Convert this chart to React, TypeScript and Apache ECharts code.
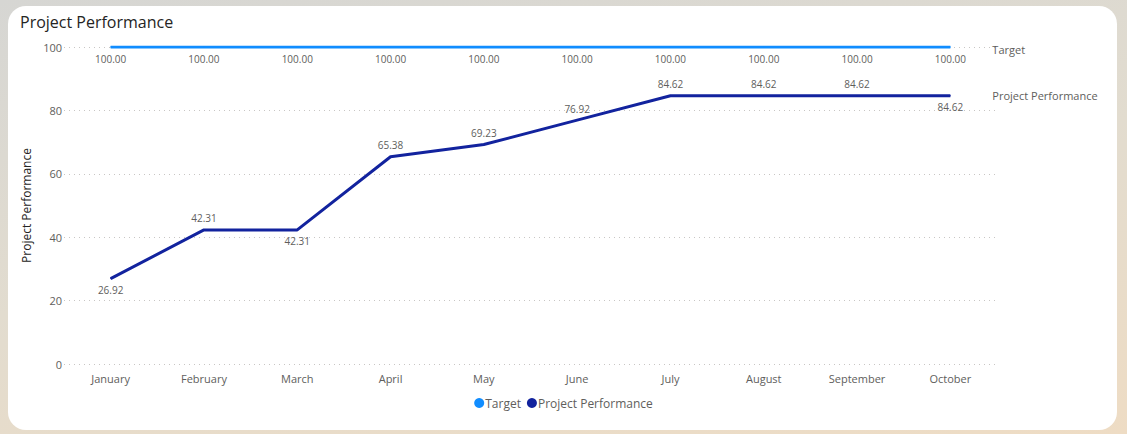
import React, { useEffect, useRef } from "react";
import * as echarts from "echarts";

const months = ["January", "February", "March", "April", "May", "June", "July", "August", "September", "October"];
const targetValues = [100, 100, 100, 100, 100, 100, 100, 100, 100, 100];
const performanceValues = [26.92, 42.31, 42.31, 65.38, 69.23, 76.92, 84.62, 84.62, 84.62, 84.62];
const performanceLabelPos = ["bottom", "top", "bottom", "top", "top", "top", "top", "top", "top", "bottom"];
const yTicks = [0, 20, 40, 60, 80, 100];

const FONT = "'Open Sans', 'Noto Sans', sans-serif";

export default function App() {
  const ref = useRef<HTMLDivElement>(null);
  useEffect(() => {
    if (!ref.current) return;
    const chart = echarts.init(ref.current, null, { renderer: "svg" });
    chart.setOption({
      animation: false,
      title: {
        text: "Project Performance",
        left: 15,
        top: 9,
        textStyle: { fontFamily: FONT, fontSize: 16, fontWeight: "normal", color: "#252423" },
      },
      legend: {
        bottom: 20,
        left: "center",
        icon: "circle",
        itemWidth: 10,
        itemHeight: 10,
        itemGap: 6,
        textStyle: { fontFamily: FONT, fontSize: 12, color: "#605E5C", padding: [0, 0, 0, -4] },
        data: ["Target", "Project Performance"],
      },
      grid: { left: 64, right: 130, top: 47, bottom: 70 },
      xAxis: {
        type: "category",
        data: months,
        boundaryGap: true,
        axisLine: { show: false },
        axisTick: { show: false },
        axisLabel: { fontFamily: FONT, fontSize: 11, color: "#605E5C", margin: 9 },
      },
      yAxis: {
        type: "value",
        min: yTicks[0],
        max: yTicks[yTicks.length - 1],
        interval: 20,
        name: "Project Performance",
        nameLocation: "middle",
        nameGap: 27,
        nameTextStyle: { fontFamily: FONT, fontSize: 12, color: "#252423" },
        axisLabel: { fontFamily: FONT, fontSize: 11, color: "#605E5C", margin: 2 },
        splitLine: { lineStyle: { type: [1, 4], color: "#C8C6C4", width: 1 } },
      },
      series: [
        {
          name: "Target",
          type: "line",
          data: targetValues,
          symbol: "circle",
          symbolSize: 1,
          lineStyle: { color: "#118DFF", width: 3 },
          itemStyle: { color: "#118DFF" },
          label: {
            show: true,
            position: "bottom",
            distance: 6,
            formatter: (p: any) => Number(p.value).toFixed(2),
            fontFamily: FONT,
            fontSize: 10,
            color: "#605E5C",
          },
          endLabel: {
            show: true,
            formatter: "{a}",
            offset: [34, 2],
            fontFamily: FONT,
            fontSize: 11,
            color: "#605E5C",
          },
        },
        {
          name: "Project Performance",
          type: "line",
          data: performanceValues.map((v, i) => ({
            value: v,
            label: { position: performanceLabelPos[i] },
          })),
          symbol: "circle",
          symbolSize: 1,
          lineStyle: { color: "#12239E", width: 3 },
          itemStyle: { color: "#12239E" },
          label: {
            show: true,
            distance: 6,
            formatter: (p: any) => Number(p.value).toFixed(2),
            fontFamily: FONT,
            fontSize: 10,
            color: "#605E5C",
          },
          endLabel: {
            show: true,
            formatter: "{a}",
            offset: [34, 0],
            fontFamily: FONT,
            fontSize: 11,
            color: "#605E5C",
          },
        },
      ],
    });
    return () => chart.dispose();
  }, []);

  return (
    <div
      style={{
        position: "fixed",
        left: 0,
        top: 0,
        width: 1127,
        height: 434,
        background: "linear-gradient(170deg, #d6d6d3 0%, #e2dccf 50%, #eedcc4 100%)",
      }}
    >
      <div
        style={{
          position: "absolute",
          left: 8,
          top: 6,
          width: 1109,
          height: 424,
          background: "#ffffff",
          borderRadius: 18,
        }}
      />
      <div ref={ref} style={{ position: "absolute", left: 0, top: 0, width: 1127, height: 434 }} />
    </div>
  );
}
